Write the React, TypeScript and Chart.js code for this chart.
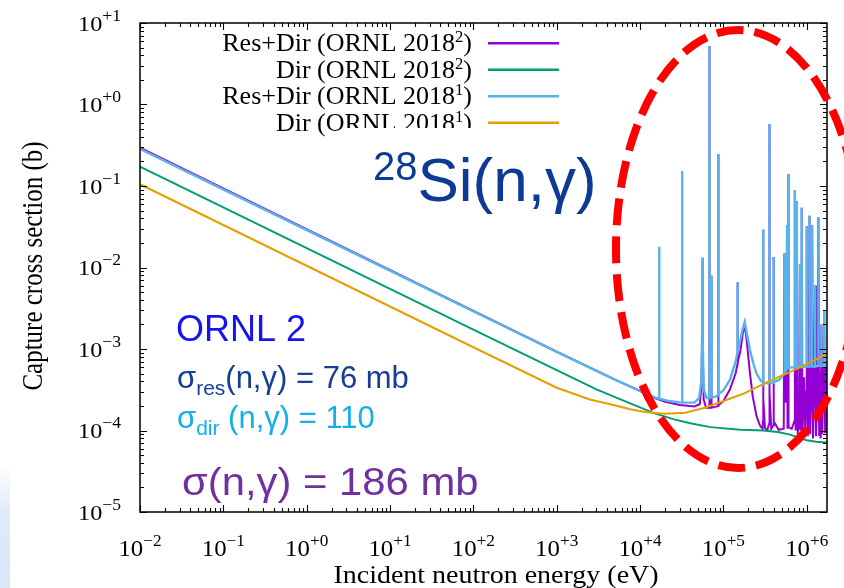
import React, { useEffect, useRef } from 'react';
import { Chart, registerables } from 'chart.js';

Chart.register(...registerables);

// ---------- axis ranges and labels ----------
const X_MIN = 1e-2;
const X_MAX = 1.75e6;
const Y_MIN = 1e-5;
const Y_MAX = 1e1;

const xTickExponents = [-2, -1, 0, 1, 2, 3, 4, 5, 6];
const yTickExponents = [-5, -4, -3, -2, -1, 0, 1];

const xAxisTitle = 'Incident neutron energy (eV)';
const yAxisTitle = 'Capture cross section (b)';

// legend label split as [main text, superscript, closing text]
const legendLabels: [string, string, string][] = [
  ['Res+Dir (ORNL 2018', '2', ')'],
  ['Dir (ORNL 2018', '2', ')'],
  ['Res+Dir (ORNL 2018', '1', ')'],
  ['Dir (ORNL 2018', '1', ')'],
];
const seriesColors = ['#9400d3', '#009e73', '#56b4e9', '#e69f00'];

const reactionTitle = 'Si(n,γ)';
const reactionMass = '28';
const annotationOrnl = 'ORNL 2';
const annotationRes = '(n,γ) = 76 mb';
const annotationDir = ' (n,γ) = 110';
const annotationTotal = 'σ(n,γ) = 186 mb';

// ---------- data: [energy (eV), cross section (b)] ----------
// Res+Dir (ORNL 2018²) – purple
const resDir2018b: [number, number][] = [
  [1e-2, 0.295], [1e3, 9.3e-4], [5e3, 4.2e-4], [1e4, 3.05e-4], [1.5e4, 2.5e-4],
  [2e4, 2.25e-4], [3e4, 2.05e-4], [4.5e4, 1.97e-4], [5.2e4, 2.1e-4], [5.45e4, 3.5e-4],
  [5.55e4, 1.2e-3], [5.6e4, 0.0132], [5.65e4, 1.2e-3], [5.8e4, 2.4e-4], [6.2e4, 1.9e-4],
  [6.78e4, 1.9e-4], [6.8e4, 5.2], [6.82e4, 1.9e-4], [7.18e4, 1.9e-4], [7.2e4, 0.0079],
  [7.22e4, 1.9e-4], [8e4, 1.95e-4], [8.68e4, 2.0e-4], [8.7e4, 0.245], [8.72e4, 2.05e-4],
  [1e5, 2.3e-4], [1.2e5, 3.2e-4], [1.4e5, 5.0e-4], [1.475e5, 6.5e-4], [1.48e5, 0.0066],
  [1.485e5, 6.8e-4], [1.6e5, 9.5e-4], [1.7e5, 1.5e-3], [1.8e5, 2.0e-3], [1.9e5, 1.3e-3],
  [2.07e5, 5.3e-4], [2.25e5, 2.6e-4], [2.5e5, 1.5e-4], [2.75e5, 1.15e-4], [2.95e5, 1.05e-4],
  [2.99e5, 1.3e-4], [3.0e5, 0.029], [3.02e5, 2.5e-4], [3.15e5, 1.08e-4], [3.35e5, 1.0e-4],
  [3.53e5, 1.2e-4], [3.56e5, 0.575], [3.59e5, 3e-4], [3.75e5, 1.05e-4], [3.97e5, 1.15e-4],
  [4.0e5, 0.0135], [4.03e5, 1.3e-4], [4.6e5, 1.02e-4], [5.3e5, 1.05e-4], [5.4e5, 0.015],
  [5.55e5, 2.2e-4], [5.7e5, 2.8e-4], [5.8e5, 0.033], [5.88e5, 1.05e-4], [5.96e5, 1.8e-4],
  [6.0e5, 0.14], [6.1e5, 1.1e-4], [6.6e5, 1.05e-4], [7.1e5, 1.3e-4], [7.2e5, 0.089],
  [7.35e5, 1.0e-4], [7.5e5, 2.0e-4], [7.6e5, 0.065], [7.8e5, 9.5e-5], [8.2e5, 1.2e-4],
  [8.3e5, 0.011], [8.45e5, 1.0e-4], [8.6e5, 3e-4], [8.7e5, 0.054], [8.9e5, 9e-5],
  [9.3e5, 4.5e-4], [9.6e5, 9e-5], [9.85e5, 3e-4], [1.0e6, 0.032], [1.03e6, 8.5e-5],
  [1.06e6, 3e-4], [1.08e6, 0.043], [1.1e6, 9e-5], [1.14e6, 3.5e-4], [1.16e6, 0.033],
  [1.19e6, 8e-5], [1.23e6, 4e-4], [1.26e6, 0.006], [1.29e6, 8.5e-5], [1.35e6, 3.5e-4],
  [1.38e6, 0.041], [1.41e6, 8.5e-5], [1.45e6, 5e-4], [1.47e6, 8e-5], [1.5e6, 2e-3],
  [1.54e6, 9e-5], [1.62e6, 3e-3], [1.66e6, 9.5e-5], [1.7e6, 6e-4], [1.75e6, 1.5e-4],
];

// Dir (ORNL 2018²) – green
const dir2018b: [number, number][] = [
  [1e-2, 0.173], [1e2, 1.73e-3], [1e3, 5.5e-4], [3e3, 3.2e-4], [7.6e3, 2.15e-4],
  [1.5e4, 1.62e-4], [2.5e4, 1.38e-4], [4e4, 1.23e-4], [7e4, 1.1e-4], [1.6e5, 1.02e-4],
  [3e5, 1.0e-4], [4.5e5, 9.6e-5], [6.3e5, 8.9e-5], [8.3e5, 8.1e-5], [1e6, 7.6e-5],
  [1.3e6, 7.3e-5], [1.75e6, 7.1e-5],
];

// Res+Dir (ORNL 2018¹) – light blue
const resDir2018a: [number, number][] = [
  [1e-2, 0.285], [1e3, 9.2e-4], [5e3, 4.2e-4], [1e4, 3.05e-4], [1.5e4, 2.55e-4],
  [1.695e4, 2.45e-4], [1.7e4, 0.018], [1.705e4, 2.45e-4], [2.2e4, 2.3e-4], [3.19e4, 2.2e-4],
  [3.2e4, 0.153], [3.21e4, 2.2e-4], [4.5e4, 2.2e-4], [5.1e4, 2.5e-4], [5.45e4, 4e-4],
  [5.55e4, 1.5e-3], [5.6e4, 0.0132], [5.65e4, 1.5e-3], [5.8e4, 3.2e-4], [6.3e4, 2.5e-4],
  [6.78e4, 2.5e-4], [6.8e4, 5.2], [6.82e4, 2.5e-4], [7.18e4, 2.55e-4], [7.2e4, 0.0079],
  [7.22e4, 2.55e-4], [8e4, 2.6e-4], [8.68e4, 2.7e-4], [8.7e4, 0.245], [8.72e4, 2.8e-4],
  [1e5, 3.1e-4], [1.2e5, 4.2e-4], [1.4e5, 7.0e-4], [1.475e5, 9e-4], [1.48e5, 0.0066],
  [1.485e5, 9.5e-4], [1.6e5, 1.3e-3], [1.7e5, 1.75e-3], [1.8e5, 2.15e-3], [1.9e5, 1.6e-3],
  [2.07e5, 1.0e-3], [2.3e5, 6.5e-4], [2.5e5, 5.0e-4], [2.8e5, 4.1e-4], [2.99e5, 3.9e-4],
  [3.0e5, 0.029], [3.01e5, 3.85e-4], [3.54e5, 3.8e-4], [3.56e5, 0.575], [3.58e5, 3.8e-4],
  [3.98e5, 3.85e-4], [4.0e5, 0.0135], [4.02e5, 3.9e-4], [4.7e5, 4.2e-4], [5.37e5, 5.0e-4],
  [5.4e5, 0.015], [5.43e5, 5.2e-4], [5.77e5, 5.6e-4], [5.8e5, 0.033], [5.83e5, 5.7e-4],
  [5.97e5, 5.8e-4], [6.0e5, 0.14], [6.03e5, 5.9e-4], [7.17e5, 6e-4], [7.2e5, 0.089],
  [7.23e5, 6e-4], [7.57e5, 6e-4], [7.6e5, 0.065], [7.63e5, 6e-4], [8.27e5, 6e-4],
  [8.3e5, 0.011], [8.33e5, 6e-4], [8.67e5, 6e-4], [8.7e5, 0.054], [8.73e5, 6e-4],
  [9.97e5, 6.1e-4], [1.0e6, 0.032], [1.003e6, 6.1e-4], [1.077e6, 6.1e-4], [1.08e6, 0.043],
  [1.083e6, 6.1e-4], [1.157e6, 6.1e-4], [1.16e6, 0.033], [1.163e6, 6.1e-4], [1.257e6, 6.1e-4],
  [1.26e6, 0.006], [1.263e6, 6.1e-4], [1.377e6, 6.2e-4], [1.38e6, 0.041], [1.383e6, 6.2e-4],
  [1.497e6, 6.2e-4], [1.5e6, 2e-3], [1.503e6, 6.2e-4], [1.617e6, 6.2e-4], [1.62e6, 3e-3],
  [1.623e6, 6.2e-4], [1.75e6, 6.3e-4],
];

// Dir (ORNL 2018¹) – orange
const dir2018a: [number, number][] = [
  [1e-2, 0.105], [1e2, 1.05e-3], [1e3, 3.35e-4], [2.5e3, 2.4e-4], [4.4e3, 2.1e-4],
  [7.6e3, 1.82e-4], [1.2e4, 1.68e-4], [2e4, 1.6e-4], [3.5e4, 1.65e-4], [6e4, 1.9e-4],
  [1e5, 2.3e-4], [1.7e5, 2.8e-4], [3e5, 3.7e-4], [7e5, 5.5e-4], [1.75e6, 8.7e-4],
];

const seriesData = [resDir2018b, dir2018b, resDir2018a, dir2018a];
const seriesOrder = [3, 2, 1, 0]; // lower order is drawn on top
const seriesWidths = [2, 2, 2.4, 2];

// ---------- drawing helpers ----------
const SERIF = '"Liberation Serif", "Times New Roman", serif';
const SANS = '"Liberation Sans", Arial, sans-serif';

type Run = { t: string; size: number; dy?: number; color?: string };

function runsWidth(ctx: CanvasRenderingContext2D, runs: Run[], family: string) {
  let w = 0;
  for (const r of runs) {
    ctx.font = `${r.size}px ${family}`;
    w += ctx.measureText(r.t).width;
  }
  return w;
}

function drawRuns(
  ctx: CanvasRenderingContext2D,
  runs: Run[],
  x: number,
  y: number,
  family: string,
  color: string,
  align: 'left' | 'right' | 'center' = 'left',
  sx = 1,
) {
  const w = runsWidth(ctx, runs, family) * sx;
  let x0 = x;
  if (align === 'right') x0 = x - w;
  else if (align === 'center') x0 = x - w / 2;
  ctx.save();
  ctx.translate(x0, y);
  ctx.scale(sx, 1);
  ctx.textAlign = 'left';
  ctx.textBaseline = 'alphabetic';
  let cx = 0;
  for (const r of runs) {
    ctx.font = `${r.size}px ${family}`;
    ctx.fillStyle = r.color || color;
    ctx.fillText(r.t, cx, r.dy || 0);
    cx += ctx.measureText(r.t).width;
  }
  ctx.restore();
}

function expLabel(e: number) {
  return e >= 0 ? `+${e}` : `−${-e}`;
}

const decorPlugin = {
  id: 'decor',
  beforeDraw(chart: any) {
    const ctx: CanvasRenderingContext2D = chart.ctx;
    ctx.save();
    ctx.fillStyle = '#ffffff';
    ctx.fillRect(0, 0, chart.width, chart.height);
    const g = ctx.createLinearGradient(0, 465, 0, 588);
    g.addColorStop(0, 'rgba(222,234,250,0)');
    g.addColorStop(0.4, 'rgba(222,234,250,1)');
    g.addColorStop(1, 'rgba(218,231,249,1)');
    ctx.fillStyle = g;
    ctx.fillRect(0, 465, 10, 123);
    ctx.restore();
  },
  afterDatasetsDraw(chart: any) {
    const ctx: CanvasRenderingContext2D = chart.ctx;
    const xs = chart.scales.x;
    const ys = chart.scales.y;
    const { left, right, top, bottom } = chart.chartArea;

    ctx.save();
    // frame
    ctx.strokeStyle = '#000';
    ctx.lineWidth = 1.5;
    ctx.strokeRect(left, top, right - left, bottom - top);

    // ticks (mirrored, inward)
    ctx.lineWidth = 1.1;
    ctx.beginPath();
    for (let d = -2; d <= 6; d++) {
      for (let k = 1; k <= 9; k++) {
        const v = k * Math.pow(10, d);
        if (v < X_MIN * 0.999 || v > X_MAX) continue;
        const px = Math.round(xs.getPixelForValue(v)) + 0.5;
        const len = k === 1 ? 7 : 4;
        ctx.moveTo(px, bottom);
        ctx.lineTo(px, bottom - len);
        ctx.moveTo(px, top);
        ctx.lineTo(px, top + len);
      }
    }
    for (let d = -5; d <= 1; d++) {
      for (let k = 1; k <= 9; k++) {
        const v = k * Math.pow(10, d);
        if (v < Y_MIN * 0.999 || v > Y_MAX * 1.001) continue;
        const py = Math.round(ys.getPixelForValue(v)) + 0.5;
        const len = k === 1 ? 7 : 4;
        ctx.moveTo(left, py);
        ctx.lineTo(left + len, py);
        ctx.moveTo(right, py);
        ctx.lineTo(right - len, py);
      }
    }
    ctx.stroke();

    // tick labels
    for (const e of xTickExponents) {
      const px = xs.getPixelForValue(Math.pow(10, e));
      drawRuns(ctx, [{ t: '10', size: 23 }, { t: expLabel(e), size: 16, dy: -10 }], px, 556, SERIF, '#000', 'center', 1.08);
    }
    for (const e of yTickExponents) {
      const py = ys.getPixelForValue(Math.pow(10, e));
      drawRuns(ctx, [{ t: '10', size: 22 }, { t: expLabel(e), size: 16, dy: -10 }], 121, py + 7.5, SERIF, '#000', 'right', 1.1);
    }

    // axis titles
    drawRuns(ctx, [{ t: xAxisTitle, size: 25 }], 496, 583, SERIF, '#000', 'center', 1.12);
    ctx.save();
    ctx.translate(42, 266);
    ctx.rotate(-Math.PI / 2);
    ctx.scale(1, 1.15);
    ctx.font = `25px ${SERIF}`;
    ctx.fillStyle = '#000';
    ctx.textAlign = 'center';
    ctx.textBaseline = 'alphabetic';
    ctx.fillText(yAxisTitle, 0, 0);
    ctx.restore();

    // legend
    for (let i = 0; i < legendLabels.length; i++) {
      const ly = top + 20.3 + i * 26.5;
      const [main, sup, close] = legendLabels[i];
      drawRuns(
        ctx,
        [{ t: main, size: 25 }, { t: sup, size: 16, dy: -9 }, { t: close, size: 25 }],
        472, ly + 8, SERIF, '#000', 'right', 1.04,
      );
      ctx.strokeStyle = seriesColors[i];
      ctx.lineWidth = 2.4;
      ctx.beginPath();
      ctx.moveTo(488, ly);
      ctx.lineTo(559, ly);
      ctx.stroke();
    }

    // white box behind the reaction label
    ctx.fillStyle = '#ffffff';
    ctx.fillRect(345, 128, 295, 105);
    drawRuns(ctx, [{ t: reactionMass, size: 40, dy: -21 }, { t: reactionTitle, size: 62 }], 373, 201, SANS, '#0d3a94', 'left');

    // annotation texts
    drawRuns(ctx, [{ t: annotationOrnl, size: 36 }], 176, 341, SANS, '#1414ee');
    drawRuns(ctx, [{ t: 'σ', size: 31 }, { t: 'res', size: 21, dy: 7 }, { t: annotationRes, size: 31 }], 177, 388, SANS, '#163e94');
    drawRuns(ctx, [{ t: 'σ', size: 31 }, { t: 'dir', size: 21, dy: 7 }, { t: annotationDir, size: 31 }], 177, 428, SANS, '#16aeea');
    drawRuns(ctx, [{ t: annotationTotal, size: 38 }], 182, 495, SANS, '#7030a0', 'left', 1.1);

    // red dashed ellipse
    ctx.strokeStyle = '#ff0000';
    ctx.lineWidth = 8;
    ctx.setLineDash([27, 11]);
    ctx.beginPath();
    ctx.ellipse(738, 249, 122, 219, 0, 0, Math.PI * 2);
    ctx.stroke();
    ctx.setLineDash([]);
    ctx.restore();
  },
};

export default function App() {
  const ref = useRef<HTMLCanvasElement>(null);

  useEffect(() => {
    const canvas = ref.current;
    if (!canvas) return;
    const chart = new Chart(canvas, {
      type: 'line',
      data: {
        datasets: seriesData.map((pts, i) => ({
          label: legendLabels[i].join(''),
          data: pts.map(([x, y]) => ({ x, y })),
          borderColor: seriesColors[i],
          borderWidth: seriesWidths[i],
          pointRadius: 0,
          tension: 0,
          fill: false,
          order: seriesOrder[i],
        })),
      },
      options: {
        responsive: false,
        animation: false,
        events: [],
        layout: { padding: { left: 140, top: 23, right: 17, bottom: 76 } },
        scales: {
          x: { type: 'logarithmic', min: X_MIN, max: X_MAX, display: false },
          y: { type: 'logarithmic', min: Y_MIN, max: Y_MAX, display: false },
        },
        plugins: {
          legend: { display: false },
          tooltip: { enabled: false },
        },
      },
      plugins: [decorPlugin],
    } as any);
    return () => chart.destroy();
  }, []);

  return (
    <div style={{ position: 'fixed', left: 0, top: 0, width: 844, height: 588, background: '#fff' }}>
      <canvas ref={ref} width={844} height={588} style={{ width: 844, height: 588, display: 'block' }} />
    </div>
  );
}
